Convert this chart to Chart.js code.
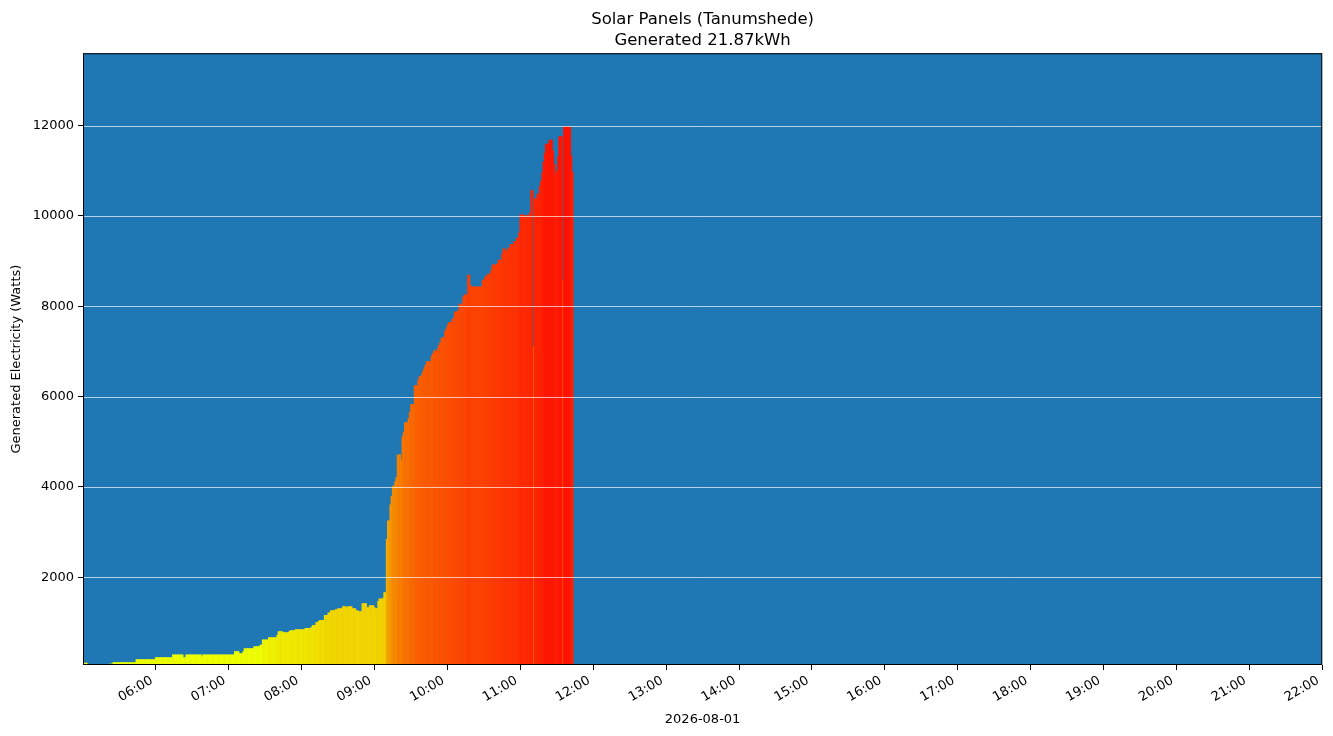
<!DOCTYPE html>
<html>
<head>
<meta charset="utf-8">
<script src="https://cdn.jsdelivr.net/npm/chart.js@4.4.1/dist/chart.umd.min.js"></script>
<style>
  html, body { margin: 0; padding: 0; background: #fff; }
  #wrap { width: 1333px; height: 736px; }
</style>
</head>
<body>
<div id="wrap"><canvas id="solarChart" width="1333" height="736"></canvas></div>
<script>
// Données : une valeur par minute depuis 05:00
const chartTitle = ["Solar Panels (Tanumshede)", "Generated 21.87kWh"];
const chartDate = "2026-08-01";
const firstMinute = 5 * 60;
const hourTicks = [6, 7, 8, 9, 10, 11, 12, 13, 14, 15, 16, 17, 18, 19, 20, 21, 22];
const wattTicks = [2000, 4000, 6000, 8000, 10000, 12000];

const watts = [
  110, 110, 110, 110, null, null, null, null, null, null,                      // 05:00
  null, null, null, null, null, null, null, null, null, null,
  null, null, 90, 90, 90, 120, 120, 120, 120, 120,
  120, 120, 120, 120, 120, 120, 120, 120, 120, 120,
  120, 120, 120, 120, 185, 185, 185, 185, 185, 185,
  185, 185, 185, 185, 185, 185, 185, 185, 185, 185,
  230, 230, 230, 230, 230, 230, 230, 230, 230, 230,                            // 06:00
  230, 230, 230, 230, 295, 295, 295, 295, 295, 295,
  295, 295, 295, 230, 230, 295, 295, 295, 295, 295,
  295, 295, 295, 295, 295, 295, 295, 295, 250, 295,
  295, 295, 295, 295, 295, 295, 295, 295, 295, 295,
  295, 295, 295, 295, 295, 295, 295, 295, 295, 295,
  295, 295, 295, 295, 295, 363, 363, 363, 363, 318,                            // 07:00
  318, 318, 363, 430, 430, 430, 430, 430, 430, 430,
  430, 475, 475, 475, 475, 475, 510, 510, 625, 625,
  625, 625, 625, 672, 672, 672, 672, 672, 672, 672,
  732, 805, 805, 805, 805, 783, 783, 783, 783, 783,
  812, 827, 827, 827, 827, 850, 850, 850, 850, 850,
  850, 850, 850, 880, 880, 880, 880, 880, 900, 945,                            // 08:00
  945, 945, 1005, 1005, 1035, 1055, 1055, 1055, 1055, 1165,
  1165, 1165, 1220, 1220, 1270, 1270, 1270, 1270, 1292, 1292,
  1315, 1315, 1315, 1315, 1358, 1358, 1358, 1336, 1358, 1358,
  1358, 1358, 1315, 1315, 1315, 1270, 1270, 1250, 1250, 1250,
  1425, 1425, 1425, 1425, 1336, 1336, 1380, 1380, 1380, 1380,
  1336, 1315, 1315, 1475, 1530, 1530, 1530, 1550, 1668, 1668,                  // 09:00
  2850, 3260, 3260, 3615, 3800, 4030, 4030, 4125, 4220, 4720,
  4720, 4720, 4590, 5120, 5225, 5430, 5430, 5430, 5525, 5665,
  5830, 5830, 5830, 6250, 6250, 6250, 6375, 6450, 6450, 6505,
  6580, 6650, 6710, 6785, 6785, 6785, 6785, 6910, 6960, 7020,
  7020, 7020, 7075, 7140, 7205, 7300, 7315, 7315, 7450, 7510,
  7580, 7640, 7650, 7650, 7710, 7740, 7885, 7885, 7885, 7925,                  // 10:00
  8055, 8055, 8055, 8215, 8260, 8260, 8260, 8700, 8700, 8455,
  8455, 8425, 8440, 8440, 8440, 8440, 8440, 8440, 8440, 8585,
  8585, 8660, 8660, 8720, 8720, 8720, 8790, 8925, 8925, 8895,
  8940, 8940, 9030, 9030, 9030, 9160, 9280, 9280, 9235, 9235,
  9295, 9295, 9380, 9380, 9380, 9440, 9440, 9515, 9515, 9630,
  10030, 10030, 10030, 10015, 10015, 10015, 10015, 10015, 10075, 10565,        // 11:00
  10565, 7110, 10385, 10385, 10490, 10490, 10665, 10770, 10960, 11195,
  11390, 11595, 11595, 11595, 11685, 11685, 11685, 11450, 11150, 10930,
  11005, 11315, 11760, 11760, 11760, 8585, 11980, 11980, 11980, 11980,
  11980, 11980, 11330, 10970
];

// dégradé jaune -> rouge selon la puissance
const colourStops = [
  [0, [236, 255, 0]], [550, [238, 253, 0]], [700, [240, 238, 0]],
  [1100, [241, 218, 0]], [1700, [243, 205, 0]], [2800, [245, 172, 0]],
  [4000, [247, 140, 0]], [5500, [249, 110, 0]], [7000, [251, 85, 0]],
  [8500, [253, 65, 0]], [10000, [255, 40, 0]], [12000, [255, 18, 0]]
];

function colourFor(w) {
  if (w == null) return 'rgba(0,0,0,0)';
  for (let i = 1; i < colourStops.length; i++) {
    const [v1, c1] = colourStops[i];
    const [v0, c0] = colourStops[i - 1];
    if (w <= v1) {
      const t = (w - v0) / (v1 - v0);
      const c = c0.map((ch, k) => Math.round(ch + (c1[k] - ch) * t));
      return `rgb(${c[0]},${c[1]},${c[2]})`;
    }
  }
  const last = colourStops[colourStops.length - 1][1];
  return `rgb(${last[0]},${last[1]},${last[2]})`;
}

function hhmm(minutes) {
  const h = Math.floor(minutes / 60), m = minutes % 60;
  return String(h).padStart(2, '0') + ':' + String(m).padStart(2, '0');
}

const font = 'DejaVu Sans';

// fond bleu, grille blanche par-dessus les barres, cadre noir
const plotStyle = {
  id: 'plotStyle',
  beforeDatasetsDraw(chart) {
    const { ctx, chartArea: a } = chart;
    ctx.save();
    ctx.fillStyle = '#1f77b4';
    ctx.fillRect(a.left, a.top, a.right - a.left, a.bottom - a.top);
    ctx.restore();
  },
  afterDatasetsDraw(chart) {
    const { ctx, chartArea: a, scales } = chart;
    ctx.save();
    ctx.strokeStyle = 'rgba(255,255,255,0.85)';
    ctx.lineWidth = 0.8;
    wattTicks.forEach(v => {
      const y = Math.round(scales.y.getPixelForValue(v)) + 0.5;
      ctx.beginPath();
      ctx.moveTo(a.left, y);
      ctx.lineTo(a.right, y);
      ctx.stroke();
    });
    ctx.strokeStyle = '#000';
    ctx.lineWidth = 1;
    ctx.strokeRect(a.left + 0.5, a.top + 0.5, a.right - a.left - 1, a.bottom - a.top - 1);
    ctx.restore();
  }
};

new Chart(document.getElementById('solarChart'), {
  type: 'bar',
  data: {
    datasets: [{
      data: watts.map((w, i) => ({ x: firstMinute + i, y: w })),
      backgroundColor: c => colourFor(c.raw ? c.raw.y : null),
      borderWidth: 0,
      barPercentage: 1.5,
      categoryPercentage: 1
    }]
  },
  options: {
    responsive: false,
    animation: false,
    layout: { padding: { left: 0, right: 10, top: 0, bottom: 0 } },
    plugins: {
      legend: { display: false },
      tooltip: { enabled: false },
      title: {
        display: true,
        text: chartTitle,
        fullSize: false,
        color: '#000',
        font: { family: font, size: 16.5, weight: 'normal', lineHeight: 1.28 },
        padding: { top: 9, bottom: 2 }
      }
    },
    scales: {
      x: {
        type: 'linear',
        min: 5 * 60,
        max: 22 * 60,
        offset: false,
        afterBuildTicks: s => { s.ticks = hourTicks.map(h => ({ value: h * 60 })); },
        afterFit: s => { s.height = 71; },
        ticks: {
          autoSkip: false,
          minRotation: 30,
          maxRotation: 30,
          padding: 3,
          labelOffset: -4,
          color: '#000',
          font: { family: font, size: 13 },
          callback: v => hhmm(v)
        },
        grid: { offset: false, drawOnChartArea: false, drawTicks: true, tickLength: 5, color: '#000' },
        border: { display: false },
        title: {
          display: true,
          text: chartDate,
          color: '#000',
          font: { family: font, size: 13 },
          padding: { top: 0, bottom: 9 }
        }
      },
      y: {
        min: 60,
        max: 13600,
        afterBuildTicks: s => { s.ticks = wattTicks.map(v => ({ value: v })); },
        afterFit: s => { s.width = 83; },
        ticks: {
          padding: 4,
          color: '#000',
          font: { family: font, size: 13 },
          callback: v => String(v)
        },
        grid: { drawOnChartArea: false, drawTicks: true, tickLength: 5, color: '#000' },
        border: { display: false },
        title: {
          display: true,
          text: 'Generated Electricity (Watts)',
          color: '#000',
          font: { family: font, size: 13 },
          padding: { top: 9, bottom: 0 }
        }
      }
    }
  },
  plugins: [plotStyle]
});
</script>
</body>
</html>
